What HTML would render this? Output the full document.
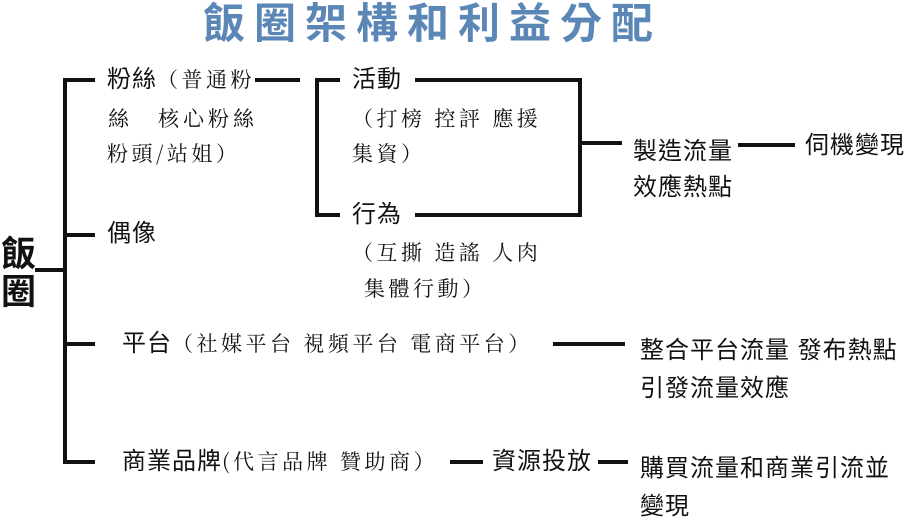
<!DOCTYPE html>
<html><head><meta charset="utf-8"><style>
body{margin:0;width:907px;height:513px;background:#fff;position:relative;overflow:hidden;font-family:"Liberation Sans","Noto Sans CJK TC",sans-serif;color:#111}
.t{position:absolute;white-space:nowrap;line-height:1}
.s{font-family:"Noto Serif CJK SC","Noto Sans CJK TC",serif;font-size:21px;letter-spacing:3.5px}
.m{font-size:24px;letter-spacing:1px}
.h{position:absolute;background:#111;height:4px}
.v{position:absolute;background:#111;width:4px}
</style></head><body>
<div class="t" style="left:203px;top:3px;font-size:42px;font-weight:bold;color:#5b87b7;letter-spacing:9px">飯圈架構和利益分配</div>
<div class="t" style="left:1px;top:236px;font-size:35px;font-weight:bold;line-height:38px">飯<br>圈</div>
<div class="h" style="left:35px;top:268px;width:30px"></div>
<div class="v" style="left:63px;top:78px;height:386px"></div>
<div class="h" style="left:63px;top:78px;width:32px"></div>
<div class="h" style="left:63px;top:233px;width:32px"></div>
<div class="h" style="left:63px;top:342px;width:32px"></div>
<div class="h" style="left:63px;top:460px;width:32px"></div>

<div class="t m" style="left:107px;top:68px">粉絲<span class="s">（普通粉</span></div>
<div class="t s" style="left:108px;top:108px;letter-spacing:4px">絲　核心粉絲</div>
<div class="t s" style="left:107px;top:143px">粉頭/站姐）</div>
<div class="h" style="left:255px;top:78px;width:45px"></div>
<div class="v" style="left:315px;top:78px;height:139px"></div>
<div class="h" style="left:315px;top:78px;width:25px"></div>
<div class="h" style="left:315px;top:213px;width:25px"></div>
<div class="t m" style="left:352px;top:68px">活動</div>
<div class="t s" style="left:352px;top:108px">（打榜 控評 應援</div>
<div class="t s" style="left:352px;top:143px">集資）</div>
<div class="t m" style="left:352px;top:203px">行為</div>
<div class="t s" style="left:352px;top:242px">（互撕 造謠 人肉</div>
<div class="t s" style="left:364px;top:278px">集體行動）</div>
<div class="h" style="left:415px;top:78px;width:167px"></div>
<div class="h" style="left:415px;top:213px;width:167px"></div>
<div class="v" style="left:578px;top:78px;height:139px"></div>
<div class="h" style="left:578px;top:141px;width:44px"></div>
<div class="t m" style="left:633px;top:134px;line-height:36px">製造流量<br>效應熱點</div>
<div class="h" style="left:738px;top:143px;width:57px"></div>
<div class="t m" style="left:805px;top:134px">伺機變現</div>

<div class="t m" style="left:107px;top:222px">偶像</div>
<div class="t m" style="left:122px;top:332px">平台<span class="s">（社媒平台 視頻平台 電商平台）</span></div>
<div class="h" style="left:553px;top:342px;width:72px"></div>
<div class="t m" style="left:640px;top:332px;line-height:38px">整合平台流量 發布熱點<br>引發流量效應</div>

<div class="t m" style="left:122px;top:450px">商業品牌<span class="s">(代言品牌 贊助商）</span></div>
<div class="h" style="left:450px;top:460px;width:33px"></div>
<div class="t m" style="left:492px;top:450px">資源投放</div>
<div class="h" style="left:598px;top:460px;width:30px"></div>
<div class="t m" style="left:640px;top:450px;line-height:38px">購買流量和商業引流並<br>變現</div>
</body></html>
